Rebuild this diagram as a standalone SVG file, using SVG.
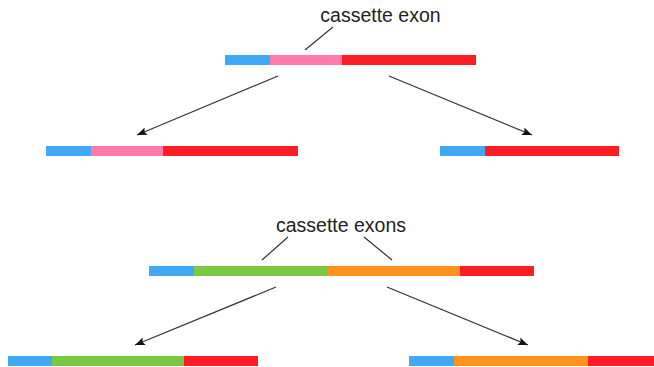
<svg xmlns="http://www.w3.org/2000/svg" width="654" height="367" viewBox="0 0 654 367">
<style>
.lbl{font-family:"Liberation Sans",Arial,sans-serif;font-size:19.5px;fill:#222;text-anchor:middle}
.ln{stroke:#333;stroke-width:1.2;fill:none}
.b{fill:#3FA9F5}.p{fill:#FF7BAC}.r{fill:#FF1D25}.g{fill:#7AC943}.o{fill:#FF931E}
</style>
<defs>
<marker id="ah" viewBox="0 0 10 8" refX="10" refY="4" markerWidth="10" markerHeight="8" markerUnits="userSpaceOnUse" orient="auto">
<path d="M0,0 L10,4 L0,8 L2,4 Z" fill="#111"/>
</marker>
</defs>
<rect width="654" height="367" fill="#fff"/>
<g id="label-top"><text class="lbl" x="380.5" y="22">cassette exon</text></g>
<g id="gene-top">
<rect class="b" x="225" y="55" width="45" height="10"/>
<rect class="p" x="270" y="55" width="72" height="10"/>
<rect class="r" x="342" y="55" width="134" height="10"/>
</g>
<g id="iso-top-left">
<rect class="b" x="46" y="146" width="45" height="10"/>
<rect class="p" x="91" y="146" width="72" height="10"/>
<rect class="r" x="163" y="146" width="135" height="10"/>
</g>
<g id="iso-top-right">
<rect class="b" x="440" y="146" width="45" height="10"/>
<rect class="r" x="485" y="146" width="134" height="10"/>
</g>
<g id="label-bottom"><text class="lbl" x="341" y="232">cassette exons</text></g>
<g id="gene-bottom">
<rect class="b" x="149" y="266" width="45" height="10"/>
<rect class="g" x="194" y="266" width="134" height="10"/>
<rect class="o" x="328" y="266" width="132" height="10"/>
<rect class="r" x="460" y="266" width="74" height="10"/>
</g>
<g id="iso-bottom-left">
<rect class="b" x="8" y="356" width="44" height="10"/>
<rect class="g" x="52" y="356" width="132" height="10"/>
<rect class="r" x="184" y="356" width="74" height="10"/>
</g>
<g id="iso-bottom-right">
<rect class="b" x="409" y="356" width="45" height="10"/>
<rect class="o" x="454" y="356" width="134" height="10"/>
<rect class="r" x="588" y="356" width="66" height="10"/>
</g>
<g id="connectors">
<line class="ln" x1="333" y1="27" x2="305" y2="50"/>
<line class="ln" x1="288" y1="237" x2="262" y2="260"/>
<line class="ln" x1="364" y1="237" x2="392" y2="260"/>
<line class="ln" x1="278" y1="76" x2="137" y2="135" marker-end="url(#ah)"/>
<line class="ln" x1="389" y1="76" x2="532" y2="135" marker-end="url(#ah)"/>
<line class="ln" x1="276" y1="287" x2="135" y2="345" marker-end="url(#ah)"/>
<line class="ln" x1="387" y1="287" x2="528" y2="345" marker-end="url(#ah)"/>
</g>
</svg>
